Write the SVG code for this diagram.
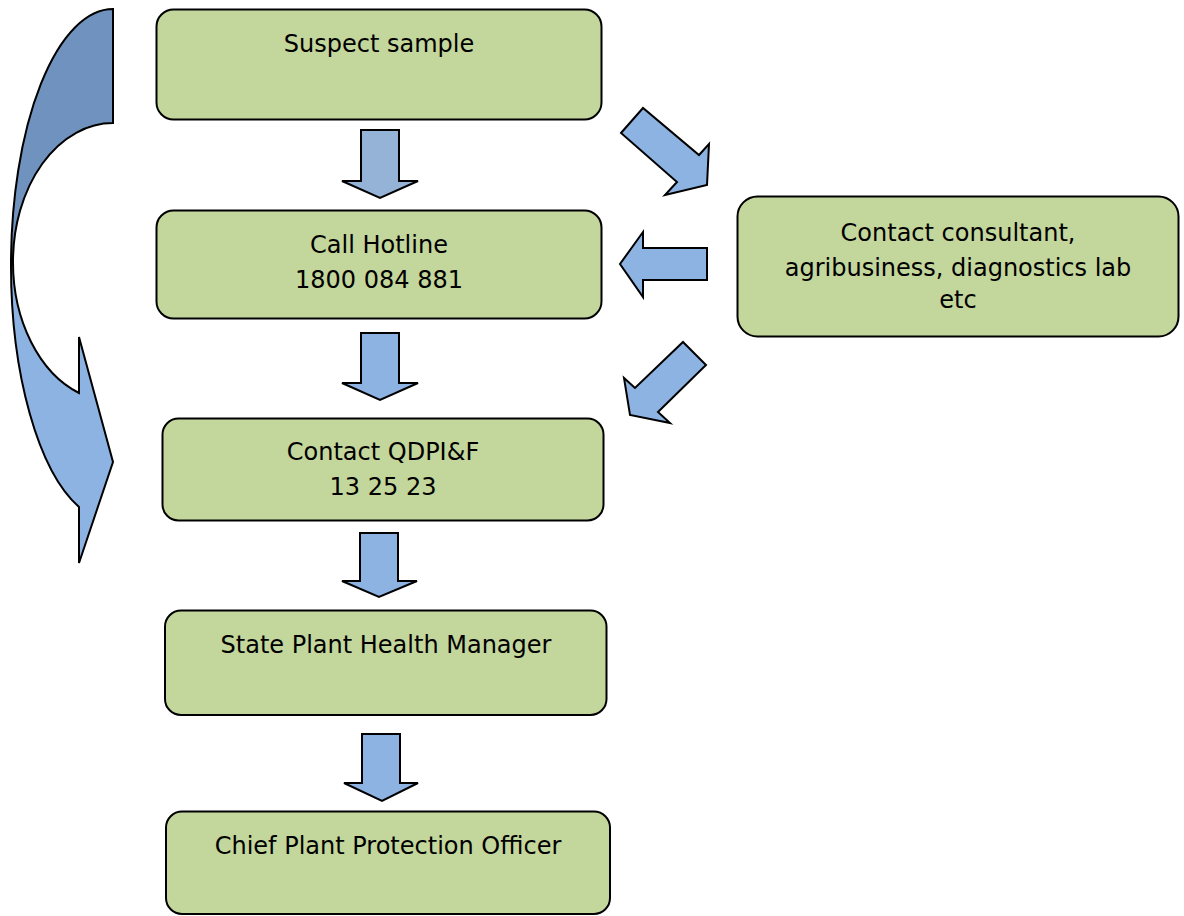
<svg xmlns="http://www.w3.org/2000/svg" width="1184" height="916" viewBox="0 0 1184 916">
  <style>
    .box { fill: #c3d69b; stroke: #000; stroke-width: 2; }
    .lbl { font-family: "DejaVu Sans", Verdana, sans-serif; font-size: 24px; fill: #000; text-anchor: middle; }
    .arr { fill: #8db3e2; stroke: #000; stroke-width: 2; stroke-linejoin: miter; }
    .arr-alt { fill: #95b3d7; }
    .arr-back { fill: #7092be; }
  </style>
  <rect width="1184" height="916" fill="#fff"/>

  <!-- connectors: block arrows -->
  <g id="connectors">
    <!-- curved return arrow on the left: lower (front) band with head, then upper (back) band -->
    <path class="arr" d="M 11,265 A 102,256 0 0 0 79,507 L 79,563 L 113,462 L 79,337 L 79,393 A 100,139 0 0 1 13,262 Z"/>
    <path class="arr arr-back" d="M 113,9 A 102,256 0 0 0 11,265 L 13,262 A 100,139 0 0 1 113,123 Z"/>

    <!-- vertical down arrows between main boxes -->
    <path class="arr arr-alt" d="M 361,130 L 399,130 L 399,181 L 418,181 L 380,198 L 342,181 L 361,181 Z"/>
    <path class="arr" d="M 361,333 L 399,333 L 399,383 L 418,383 L 380,400 L 342,383 L 361,383 Z"/>
    <path class="arr" d="M 360,533 L 398,533 L 398,581 L 417,581 L 379,597 L 342,581 L 360,581 Z"/>
    <path class="arr" d="M 362,734 L 400,734 L 400,783 L 418,783 L 382,801 L 344,783 L 362,783 Z"/>

    <!-- diagonal arrow towards consultant box -->
    <path class="arr" d="M 621,133 L 643,108 L 699,155 L 709,144 L 707,185 L 665,195 L 677,182 Z"/>
    <!-- left arrow from consultant box to hotline -->
    <path class="arr" d="M 707,248 L 707,280 L 643,280 L 643,297 L 620,264 L 643,232 L 643,248 Z"/>
    <!-- diagonal arrow from consultant box to QDPI&F -->
    <path class="arr" d="M 683,342 L 706,365 L 658,412 L 670,423 L 630,415 L 624,378 L 635,388 Z"/>
  </g>

  <g id="node-suspect">
    <rect class="box" x="156.5" y="9.5" width="445" height="110" rx="17"/>
    <text class="lbl" x="379" y="52">Suspect sample</text>
  </g>

  <g id="node-hotline">
    <rect class="box" x="156.5" y="210.5" width="445" height="108" rx="17"/>
    <text class="lbl" x="379" y="253">Call Hotline</text>
    <text class="lbl" x="379" y="288">1800 084 881</text>
  </g>

  <g id="node-consultant">
    <rect class="box" x="737.5" y="196.5" width="441" height="140" rx="20"/>
    <text class="lbl" x="958" y="241">Contact consultant,</text>
    <text class="lbl" x="958" y="276">agribusiness, diagnostics lab</text>
    <text class="lbl" x="958" y="308">etc</text>
  </g>

  <g id="node-qdpif">
    <rect class="box" x="162.5" y="418.5" width="441" height="102" rx="16"/>
    <text class="lbl" x="383" y="460">Contact QDPI&amp;F</text>
    <text class="lbl" x="383" y="495">13 25 23</text>
  </g>

  <g id="node-state">
    <rect class="box" x="165" y="610.5" width="441.5" height="104.5" rx="16"/>
    <text class="lbl" x="386" y="653">State Plant Health Manager</text>
  </g>

  <g id="node-chief">
    <rect class="box" x="166" y="811.5" width="444" height="102.5" rx="16"/>
    <text class="lbl" x="388" y="854">Chief Plant Protection Officer</text>
  </g>
</svg>
